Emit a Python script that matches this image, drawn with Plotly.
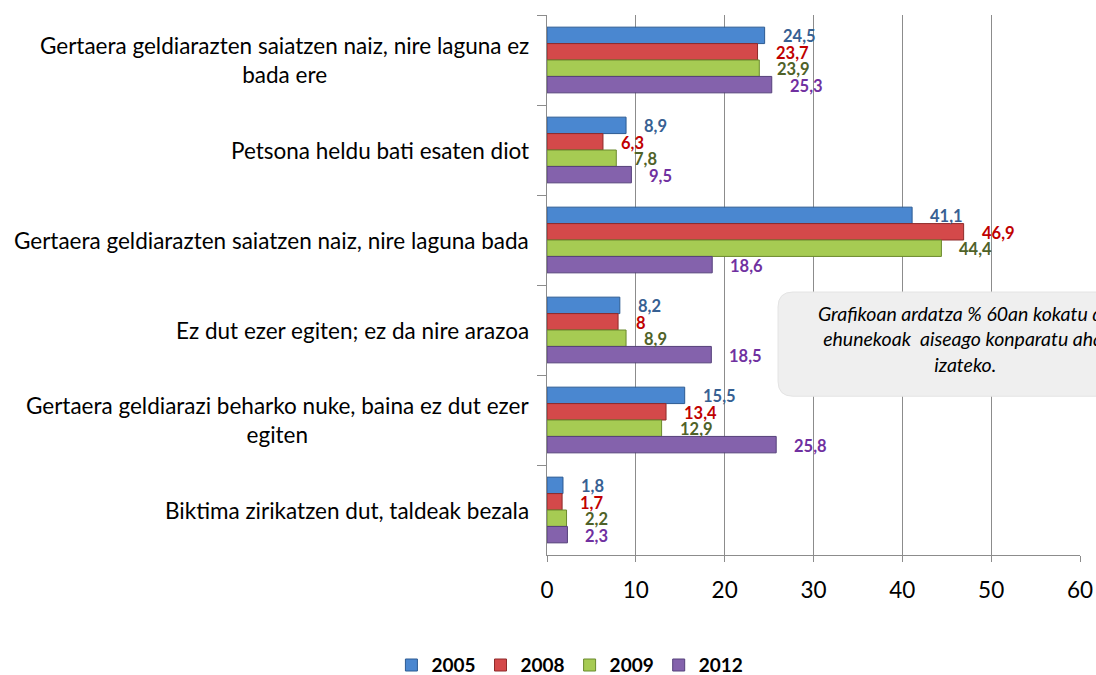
import plotly.graph_objects as go

categories = [
    "Gertaera geldiarazten saiatzen naiz, nire laguna ez<br>bada ere",
    "Petsona heldu bati esaten diot",
    "Gertaera geldiarazten saiatzen naiz, nire laguna bada",
    "Ez dut ezer egiten; ez da nire arazoa",
    "Gertaera geldiarazi beharko nuke, baina ez dut ezer<br>egiten",
    "Biktima zirikatzen dut, taldeak bezala",
]
series_names = ["2005", "2008", "2009", "2012"]
v2005 = [24.5, 8.9, 41.1, 8.2, 15.5, 1.8]
v2008 = [23.7, 6.3, 46.9, 8, 13.4, 1.7]
v2009 = [23.9, 7.8, 44.4, 8.9, 12.9, 2.2]
v2012 = [25.3, 9.5, 18.6, 18.5, 25.8, 2.3]
series_values = [v2005, v2008, v2009, v2012]
x_ticks = [0, 10, 20, 30, 40, 50, 60]
note_text = "Grafikoan ardatza % 60an kokatu da<br>ehunekoak  aiseago konparatu ahal<br>izateko."

bar_colors = ["#4A87D0", "#D4494A", "#A6CB53", "#8462AC"]
line_colors = ["#2C5B92", "#8E2B2A", "#6B8A2E", "#55407A"]
label_colors = ["#376092", "#C00000", "#4F6228", "#7030A0"]

FONT = "Lato, Carlito, Calibri, 'Open Sans', sans-serif"

fig = go.Figure()
for name, vals, c, lc in zip(series_names, series_values, bar_colors, line_colors):
    fig.add_trace(go.Bar(
        y=categories, x=vals, name=name, orientation="h",
        marker=dict(color=c, line=dict(color=lc, width=1)),
    ))

bargap = 0.27
n = len(series_names)
bw = (1 - bargap) / n
annotations = []
for si, (vals, lc) in enumerate(zip(series_values, label_colors)):
    off = -(1 - bargap) / 2 + bw * (si + 0.5)
    for ci, v in enumerate(vals):
        annotations.append(dict(
            x=v, y=ci + off, xref="x", yref="y",
            text=f"<b>{v:g}</b>".replace(".", ","),
            showarrow=False, xanchor="left", yanchor="middle",
            xshift=16, yshift=-1,
            font=dict(family=FONT, size=16.5, color=lc),
        ))

for ci, cat in enumerate(categories):
    annotations.append(dict(
        x=0, y=ci, xref="paper", yref="y", text=cat,
        showarrow=False, xanchor="right", yanchor="middle", align="center",
        xshift=-16, font=dict(family=FONT, size=22.5, color="#000000"),
    ))

# note box
x0, x1, y0, y1 = 0.4334, 1.139, 0.294, 0.487
rx, ry = 15 / 533, 15 / 540
path = (f"M {x0+rx},{y0} L {x1-rx},{y0} Q {x1},{y0} {x1},{y0+ry} "
        f"L {x1},{y1-ry} Q {x1},{y1} {x1-rx},{y1} L {x0+rx},{y1} "
        f"Q {x0},{y1} {x0},{y1-ry} L {x0},{y0+ry} Q {x0},{y0} {x0+rx},{y0} Z")
shapes = [dict(type="path", path=path, xref="paper", yref="paper",
               fillcolor="#EFEFEF", line=dict(color="#E4E4E4", width=1), layer="above")]
annotations.append(dict(
    x=0.786, y=0.400, xref="paper", yref="paper", text=f"<i>{note_text}</i>",
    showarrow=False, xanchor="center", yanchor="middle", align="center",
    font=dict(family=FONT, size=19.5, color="#000000"),
))

fig.update_layout(
    width=1096, height=675,
    margin=dict(l=547, r=16, t=15, b=120, autoexpand=False),
    paper_bgcolor="white", plot_bgcolor="white",
    barmode="group", bargap=bargap, bargroupgap=0,
    font=dict(family=FONT, color="#000000"),
    xaxis=dict(
        range=[0, 60], tickvals=x_ticks, ticktext=[str(t) for t in x_ticks],
        showgrid=True, gridcolor="#8C8C8C", gridwidth=1,
        showline=True, linecolor="#8C8C8C", linewidth=1,
        ticks="outside", ticklen=6, tickcolor="#8C8C8C",
        ticklabelstandoff=9,
        tickfont=dict(family=FONT, size=22.5, color="#000000"),
        zeroline=False, fixedrange=True, automargin=False,
    ),
    yaxis=dict(
        autorange="reversed", showticklabels=False,
        ticks="outside", tickson="boundaries", ticklen=9, tickcolor="#8C8C8C",
        showline=True, linecolor="#8C8C8C", linewidth=1,
        showgrid=False, zeroline=False, automargin=False,
    ),
    legend=dict(
        orientation="h", x=0.043, xanchor="center", y=-0.204, yanchor="middle",
        font=dict(family=FONT, size=19, color="#000000", weight="bold"),
        traceorder="normal", itemwidth=30,
    ),
    annotations=annotations,
    shapes=shapes,
)

fig.write_html(
    "out.html",
    config={"displayModeBar": False},
    post_script="document.body.style.margin='0';document.body.style.overflow='hidden';",
)
